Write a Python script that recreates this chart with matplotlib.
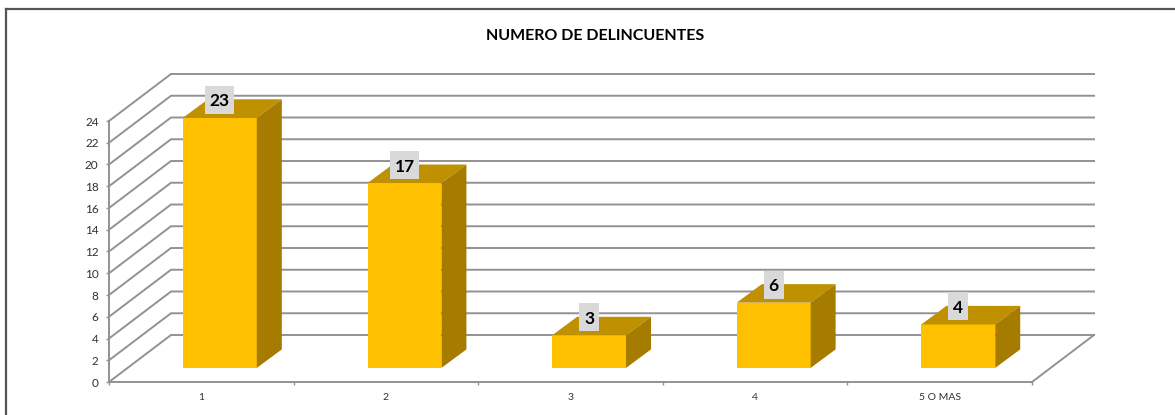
import numpy as np
import matplotlib
matplotlib.use("Agg")
import matplotlib.pyplot as plt
from matplotlib.lines import Line2D
from matplotlib.patches import Polygon, Rectangle

categories = ['1', '2', '3', '4', '5 O MAS']
values = [23, 17, 3, 6, 4]
y_ticks = list(range(0, 25, 2))
title = 'NUMERO DE DELINCUENTES'

W, H = 1175, 415
plt.rcParams['font.family'] = ['Lato', 'DejaVu Sans']

fig = plt.figure(figsize=(W / 100, H / 100), dpi=100)
# plot box of the front plane, in pixels of the picture
ax = fig.add_axes([109 / W, (H - 382) / H, 923 / W, 261 / H])
ax.set_xlim(0, 5)
ax.set_ylim(0, 24)
ax.patch.set_visible(False)

# one data unit in pixels
px_x = 184.6
px_y = 10.875

# depth of the 3d box, in data units
dx = 62 / px_x
dy = 47 / px_y
# bars sit part way into the box and are shallower than it
f = 0.30
bar_w = 0.40
bar_dx = 25 / px_x
bar_dy = 18.5 / px_y

grid = '#929292'
for v in y_ticks:
    ax.plot([0, dx, 5 + dx], [v, v + dy, v + dy], color=grid, lw=1.4, zorder=1,
            clip_on=False, solid_joinstyle='miter')
ax.plot([5, 5 + dx], [0, dy], color=grid, lw=1.4, zorder=1, clip_on=False)

xs = np.arange(len(values)) + 0.5 + dx * f
base = dy * f
ax.bar(xs, values, bottom=base, width=bar_w, color='#FFC000', zorder=3, clip_on=False)

for x, v in zip(xs, values):
    l, r = x - bar_w / 2, x + bar_w / 2
    t = base + v
    ax.add_patch(Polygon([(l, t), (r, t), (r + bar_dx, t + bar_dy), (l + bar_dx, t + bar_dy)],
                         facecolor='#BF9000', edgecolor='none', zorder=3, clip_on=False))
    ax.add_patch(Polygon([(r, base), (r + bar_dx, base + bar_dy), (r + bar_dx, t + bar_dy), (r, t)],
                         facecolor='#A67C00', edgecolor='none', zorder=3, clip_on=False))
    # label box: 28 px high, width follows the digits
    box_w = (29 if v > 9 else 20) / px_x
    box_h = 28 / px_y
    cy = t + 18 / px_y
    ax.add_patch(Rectangle((x - box_w / 2, cy - box_h / 2), box_w, box_h,
                           facecolor='#D9D9D9', edgecolor='none', zorder=4, clip_on=False))
    ax.text(x, cy, str(v), ha='center', va='center_baseline', fontsize=12.5, fontweight='bold',
            color='black', zorder=5, clip_on=False)

for s in ['top', 'right']:
    ax.spines[s].set_visible(False)
for s in ['left', 'bottom']:
    ax.spines[s].set_color(grid)
    ax.spines[s].set_linewidth(1.4)

ax.set_yticks(y_ticks)
ax.set_xticks(np.arange(len(categories) + 1))
ax.set_xticklabels([])
ax.set_xticks(np.arange(len(categories)) + 0.5, minor=True)
ax.set_xticklabels(categories, minor=True)
ax.tick_params(axis='y', length=2.5, width=1, color=grid, labelsize=8.5, labelcolor='#303030', pad=5)
ax.tick_params(axis='x', which='major', length=2.5, width=1, color=grid)
ax.tick_params(axis='x', which='minor', length=0, labelsize=7.5, labelcolor='#303030', pad=8)

fig.text(595 / W, (H - 36) / H, title, ha='center', va='center', fontsize=11.5,
         fontweight='bold', color='black')

# frame of the sheet, only top and left show
frame = '#555555'
fig.add_artist(Line2D([6 / W, 6 / W], [0, (H - 9) / H], color=frame, lw=1.6))
fig.add_artist(Line2D([6 / W, 1], [(H - 9) / H, (H - 9) / H], color=frame, lw=1.6))

fig.savefig('out.png', dpi=100)
